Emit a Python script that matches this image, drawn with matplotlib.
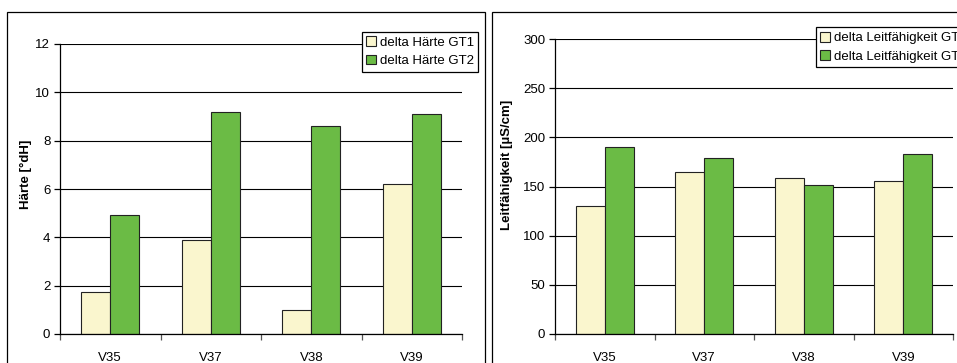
import matplotlib
matplotlib.use("Agg")
import matplotlib.pyplot as plt
from matplotlib.patches import Rectangle
import numpy as np

plt.rcParams["font.family"] = ["Liberation Sans", "DejaVu Sans"]

versuche = ["V35", "V37", "V38", "V39"]
haerte_gt1 = [1.75, 3.87, 1.0, 6.2]
haerte_gt2 = [4.92, 9.17, 8.59, 9.1]
leit_gt1 = [130, 165, 159, 156]
leit_gt2 = [190, 179, 152, 183]

haerte_ticks = [0, 2, 4, 6, 8, 10, 12]
leit_ticks = [0, 50, 100, 150, 200, 250, 300]

C_GT1 = "#FAF6CE"
C_GT2 = "#6BBB45"
EDGE = "#222222"
FS = 9.5

W, H = 957, 363
fig = plt.figure(figsize=(W / 100, H / 100), dpi=100)


def px_axes(x0, x1, y_top, y_bot):
    return fig.add_axes([x0 / W, 1 - y_bot / H, (x1 - x0) / W, (y_bot - y_top) / H])


def draw_panel(ax, gt1, gt2, ticks, ylabel, labels, legend_xy, label_xy):
    x = np.arange(len(versuche))
    w = 0.29
    b1 = ax.bar(x - w / 2, gt1, w, color=C_GT1, edgecolor=EDGE, linewidth=0.8,
                label=labels[0], zorder=3)
    b2 = ax.bar(x + w / 2, gt2, w, color=C_GT2, edgecolor=EDGE, linewidth=0.8,
                label=labels[1], zorder=3)
    ax.set_xlim(-0.5, len(versuche) - 0.5)
    ax.set_ylim(ticks[0], ticks[-1])
    ax.set_yticks(ticks)
    ax.set_yticklabels([str(t) for t in ticks], fontsize=FS)
    # boundaries carry the tick marks, centres carry the labels
    ax.set_xticks(np.arange(-0.5, len(versuche), 1.0))
    ax.set_xticklabels([])
    ax.set_xticks(x, minor=True)
    ax.set_xticklabels(versuche, minor=True, fontsize=FS)
    ax.tick_params(axis="x", which="minor", length=0, pad=13)
    ax.tick_params(axis="x", which="major", length=4, width=0.9, color="#555555")
    ax.tick_params(axis="y", length=4, width=0.9, pad=3)
    ax.grid(axis="y", color="black", linewidth=0.8, zorder=0)
    ax.set_axisbelow(True)
    for s in ("top", "right"):
        ax.spines[s].set_visible(False)
    for s in ("left", "bottom"):
        ax.spines[s].set_linewidth(0.9)
        ax.spines[s].set_zorder(4)
    ax.set_ylabel(ylabel, fontsize=FS, fontweight="bold")
    ax.yaxis.set_label_coords(label_xy[0] / W, 1 - label_xy[1] / H,
                              transform=fig.transFigure)
    leg = ax.legend(handles=[b1, b2], loc="upper left", bbox_to_anchor=legend_xy,
                    bbox_transform=fig.transFigure, fontsize=FS, frameon=True,
                    fancybox=False, edgecolor="black", framealpha=1,
                    borderaxespad=0, borderpad=0.35, labelspacing=0.45,
                    handlelength=0.75, handleheight=0.75, handletextpad=0.25)
    leg.get_frame().set_linewidth(0.9)
    leg.set_zorder(10)
    return ax


ax1 = px_axes(60, 462, 44, 334)
draw_panel(ax1, haerte_gt1, haerte_gt2, haerte_ticks, "Härte [°dH]",
           ["delta Härte GT1", "delta Härte GT2"], (361.7 / W, 1 - 31.7 / H),
           (32, 174))

ax2 = px_axes(555, 953, 39, 334)
draw_panel(ax2, leit_gt1, leit_gt2, leit_ticks, "Leitfähigkeit [µS/cm]",
           ["delta Leitfähigkeit GT1", "delta Leitfähigkeit GT2"],
           (815.7 / W, 1 - 27.3 / H), (513, 165))

# chart-area frames around each panel
fig.add_artist(Rectangle((7.3 / W, -0.1), (485 - 7.3) / W, 1.1 - 12.3 / H,
                         transform=fig.transFigure, fill=False,
                         edgecolor="black", linewidth=0.9))
fig.add_artist(Rectangle((492.3 / W, -0.1), 0.6, 1.1 - 12.3 / H,
                         transform=fig.transFigure, fill=False,
                         edgecolor="black", linewidth=0.9))

fig.savefig("out.png", dpi=100)
